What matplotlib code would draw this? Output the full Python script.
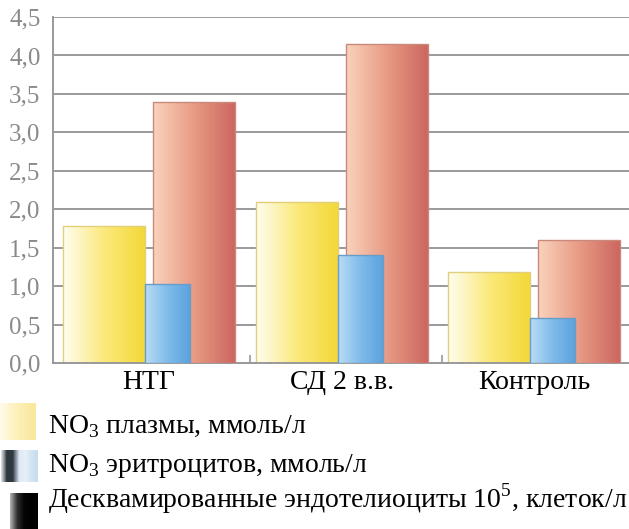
import matplotlib
matplotlib.use("Agg")
import matplotlib.pyplot as plt
import numpy as np
from matplotlib.colors import LinearSegmentedColormap
from matplotlib.patches import Rectangle

plt.rcParams['font.family'] = ['Liberation Serif', 'DejaVu Serif']
plt.rcParams['mathtext.fontset'] = 'custom'
plt.rcParams['mathtext.rm'] = 'Liberation Serif'

groups = ['НТГ', 'СД 2 в.в.', 'Контроль']
no3_plasma = [1.78, 2.1, 1.18]
no3_erythro = [1.03, 1.4, 0.59]
endothel = [3.4, 4.15, 1.6]
yticks = [0.0, 0.5, 1.0, 1.5, 2.0, 2.5, 3.0, 3.5, 4.0, 4.5]
legend_labels = ['NO$_3$ плазмы, ммоль/л',
                 'NO$_3$ эритроцитов, ммоль/л',
                 'Десквамированные эндотелиоциты 10$^5$, клеток/л']

# gradient colours (left -> right) and edge colour per series
yellow = (['#fffdf0', '#fbe97a', '#f3d838'], '#e2cf7a')
blue = (['#b8dcf4', '#7fbbea', '#5aa2de'], '#6a9cc8')
red = (['#f9d2bc', '#e89a84', '#cc6660'], '#c98a7c')

fig = plt.figure(figsize=(6.29, 5.29), dpi=100)
ax = fig.add_axes([0.0843, 0.3138, 0.9157, 0.6540])

x = np.arange(len(groups))
w_big = 0.426
w_small = 0.234


def gradient_bars(xs, heights, width, style, z):
    cols, edge = style
    cmap = LinearSegmentedColormap.from_list('g', cols)
    grad = np.linspace(0, 1, 64).reshape(1, -1)
    bars = ax.bar(xs, heights, width, align='edge', color='none',
                  edgecolor=edge, linewidth=1.0, zorder=z + 0.5)
    for b in bars:
        im = ax.imshow(grad, cmap=cmap, aspect='auto', zorder=z,
                       extent=(b.get_x(), b.get_x() + b.get_width(), 0, b.get_height()))
        clip = Rectangle((b.get_x(), 0), b.get_width(), b.get_height(), transform=ax.transData)
        im.set_clip_path(clip)
    return bars


gradient_bars(x, no3_plasma, w_big, yellow, 2)
gradient_bars(x + 0.468, endothel, w_big, red, 3)
gradient_bars(x + w_big, no3_erythro, w_small, blue, 4)

ax.set_xlim(-0.052, 2.94)
ax.set_ylim(0, 4.5)
ax.set_yticks(yticks)
ax.set_yticklabels([f'{t:.1f}'.replace('.', ',') for t in yticks],
                   color='#8a8a8a', fontsize=18)
ax.yaxis.grid(True, color='#9a9a9a', linewidth=1.4, zorder=0)
ax.set_axisbelow(True)
ax.tick_params(axis='y', length=0, pad=9)
ax.set_xticks(x + 0.447)
ax.set_xticklabels(groups, fontsize=20)
ax.tick_params(axis='x', length=0, pad=5)
ax.set_xticks([0.97, 1.97], minor=True)
ax.tick_params(axis='x', which='minor', direction='in', length=6, color='#999999', width=1.2)

for s in ['top', 'right']:
    ax.spines[s].set_visible(False)
for s in ['left', 'bottom']:
    ax.spines[s].set_color('#999999')
    ax.spines[s].set_linewidth(1.4)

# legend below the chart, drawn manually at the left edge
sw_rows = [(0.0, 0.168, 0.056, 0.070), (0.0, 0.089, 0.060, 0.060), (0.016, 0.0, 0.043, 0.068)]
sw_cols = [['#fffbe8', '#fdf0b8', '#fae79a'],
           ['#ffffff', '#303840', '#303840', '#dce8f4', '#e8f0f8', '#d4e4f2', '#c8dcf0'],
           ['#b0b0b0', '#303030', '#050505', '#000000', '#000000']]
text_y = [0.1815, 0.108, 0.040]
for (sx, sy, sw, sh), cols, ty, lab in zip(sw_rows, sw_cols, text_y, legend_labels):
    lax = fig.add_axes([sx, sy, sw, sh])
    lax.imshow(np.linspace(0, 1, 32).reshape(1, -1), aspect='auto',
               cmap=LinearSegmentedColormap.from_list('l', cols))
    lax.axis('off')
    fig.text(0.076, ty, lab, fontsize=20, va='baseline', ha='left')

fig.savefig('out.png', dpi=100)
